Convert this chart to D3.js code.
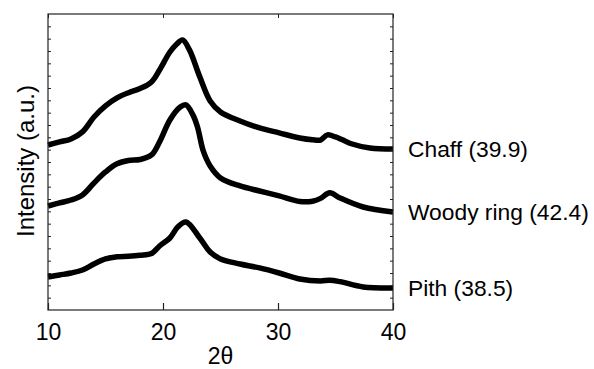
<!DOCTYPE html>
<html>
<head>
<meta charset="utf-8">
<script src="https://cdn.jsdelivr.net/npm/d3@7/dist/d3.min.js"></script>
<style>
  html, body { margin: 0; padding: 0; background: #fff; }
  svg { display: block; font-family: "Liberation Sans", Arial, Helvetica, sans-serif; }
</style>
</head>
<body>
<svg id="chart" width="594" height="369"></svg>
<script>
// 2θ positions (degrees) and intensities
const chaffX = [10, 11, 12, 13, 14, 15, 16, 17, 18, 19, 19.7, 20.6, 21.2, 21.7, 22.3, 23.2, 24.1, 25.0, 26.7, 28.4, 30.1, 31.9, 33.0, 33.7, 34.3, 35.0, 35.6, 36.3, 38.0, 40];
const chaffY = [13.38, 13.63, 13.87, 14.44, 15.65, 16.55, 17.20, 17.62, 17.95, 18.49, 19.46, 20.92, 21.57, 21.90, 21.09, 18.90, 16.95, 16.06, 15.33, 14.76, 14.36, 13.95, 13.80, 13.78, 14.20, 14.03, 13.80, 13.50, 13.14, 13.06];

const woodyX = [10, 11, 12, 13, 14, 15, 16, 17, 18, 19, 19.7, 20.6, 21.5, 22.0, 22.6, 23.0, 23.5, 24.1, 25.0, 26.7, 28.4, 30.1, 31.9, 33.0, 33.7, 34.5, 35.4, 37.4, 40];
const woodyY = [8.43, 8.68, 8.92, 9.33, 10.30, 11.19, 11.85, 12.12, 12.20, 12.57, 13.63, 15.41, 16.46, 16.63, 15.82, 14.84, 12.90, 11.68, 10.71, 10.06, 9.65, 9.25, 8.80, 8.82, 9.05, 9.50, 9.08, 8.35, 7.95];

const pithX = [10, 11, 12, 13, 14, 15, 16, 17, 18, 19, 19.7, 20.6, 21.3, 22.0, 23.2, 24.1, 25.0, 26.7, 28.4, 30.1, 31.9, 33.7, 34.5, 35.4, 37.4, 40];
const pithY = [2.68, 2.84, 3.00, 3.24, 3.73, 4.14, 4.32, 4.36, 4.44, 4.58, 5.19, 5.84, 6.75, 7.14, 5.84, 4.70, 4.14, 3.73, 3.41, 3.00, 2.51, 2.35, 2.42, 2.30, 1.87, 1.78];

const seriesNames = ["Chaff (39.9)", "Woody ring (42.4)", "Pith (38.5)"];
const xTicks = [10, 20, 30, 40];
const xDomain = [10, 40];
const yDomain = [0, 24];

const svg = d3.select("#chart");
const W = 594, H = 369;
const margin = { left: 48, top: 14, right: W - 393, bottom: H - 310 };

const x = d3.scaleLinear().domain(xDomain).range([margin.left, W - margin.right]);
const y = d3.scaleLinear().domain(yDomain).range([H - margin.bottom, margin.top]);

const series = [
  { name: seriesNames[0], xs: chaffX, ys: chaffY },
  { name: seriesNames[1], xs: woodyX, ys: woodyY },
  { name: seriesNames[2], xs: pithX, ys: pithY }
];

const line = d3.line()
  .x(d => x(d[0]))
  .y(d => y(d[1]))
  .curve(d3.curveCatmullRom.alpha(0.5));

const g = svg.append("g");

// curves
series.forEach(s => {
  const pts = s.xs.map((v, i) => [v, s.ys[i]]);
  g.append("path")
    .datum(pts)
    .attr("fill", "none")
    .attr("stroke", "#000")
    .attr("stroke-width", 5.5)
    .attr("stroke-linejoin", "round")
    .attr("d", line);
});

// frame
const axisColor = "#222";
g.append("rect")
  .attr("x", x(xDomain[0])).attr("y", y(yDomain[1]))
  .attr("width", x(xDomain[1]) - x(xDomain[0]))
  .attr("height", y(yDomain[0]) - y(yDomain[1]))
  .attr("fill", "none").attr("stroke", axisColor).attr("stroke-width", 1.2);

// bottom axis (ticks inward)
const xAxis = d3.axisBottom(x).tickValues(xTicks).tickSizeInner(-7).tickSizeOuter(0).tickPadding(14);
const xg = g.append("g").attr("transform", `translate(0,${y(yDomain[0])})`).call(xAxis);
xg.select(".domain").remove();
xg.selectAll(".tick line").attr("stroke", axisColor).attr("stroke-width", 1.2);
xg.selectAll(".tick text").attr("font-size", 23).attr("fill", "#000")
  .attr("font-family", "'Liberation Sans', Arial, sans-serif");

// top axis
const xTop = d3.axisTop(x).tickValues(xTicks).tickSizeInner(-4).tickSizeOuter(0).tickFormat("");
const xtg = g.append("g").attr("transform", `translate(0,${y(yDomain[1])})`).call(xTop);
xtg.select(".domain").remove();
xtg.selectAll(".tick line").attr("stroke", axisColor);

// left / right minor ticks
const yTicks = d3.range(1, 24);
const yl = g.append("g").attr("transform", `translate(${x(xDomain[0])},0)`)
  .call(d3.axisLeft(y).tickValues(yTicks).tickSizeInner(-3).tickSizeOuter(0).tickFormat(""));
yl.select(".domain").remove();
yl.selectAll(".tick line").attr("stroke", axisColor);
const yr = g.append("g").attr("transform", `translate(${x(xDomain[1])},0)`)
  .call(d3.axisRight(y).tickValues(yTicks).tickSizeInner(-3).tickSizeOuter(0).tickFormat(""));
yr.select(".domain").remove();
yr.selectAll(".tick line").attr("stroke", axisColor);

// series labels at line ends
series.forEach(s => {
  const last = s.ys[s.ys.length - 1];
  g.append("text")
    .attr("x", x(xDomain[1]) + 15)
    .attr("y", y(last) + 8)
    .attr("font-size", 22.8)
    .attr("fill", "#000")
    .text(s.name);
});

// axis titles
g.append("text")
  .attr("x", (x(xDomain[0]) + x(xDomain[1])) / 2)
  .attr("y", 364)
  .attr("text-anchor", "middle")
  .attr("font-size", 23)
  .text("2θ");

g.append("text")
  .attr("transform", `translate(34,${161}) rotate(-90)`)
  .attr("text-anchor", "middle")
  .attr("font-size", 24)
  .text("Intensity (a.u.)");
</script>
</body>
</html>
